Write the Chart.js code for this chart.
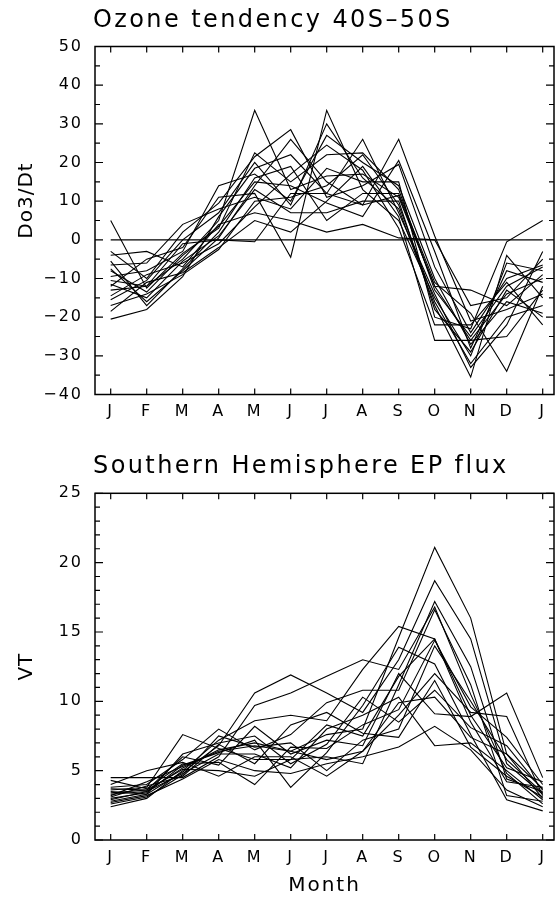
<!DOCTYPE html>
<html>
<head>
<meta charset="utf-8">
<script src="https://cdn.jsdelivr.net/npm/chart.js@4.4.0/dist/chart.umd.min.js"></script>
<style>
html, body { margin: 0; padding: 0; background: #fff; overflow: hidden; }
.panel { position: absolute; left: 0; width: 555px; }
#top { top: 0; height: 440px; }
#bottom { top: 440px; height: 458px; }
</style>
</head>
<body>
<div class="panel" id="top"><canvas id="ozoneChart" width="555" height="440"></canvas></div>
<div class="panel" id="bottom"><canvas id="fluxChart" width="555" height="458"></canvas></div>
<script>
// month ticks, J to J
var months = ['J', 'F', 'M', 'A', 'M', 'J', 'J', 'A', 'S', 'O', 'N', 'D', 'J'];

// ozone tendency 40S-50S, one row per year
var ozoneYears = [
  [-10.5, -12, -5, 5, 33.5, 13, 16.5, 17, 11, -12, -26, -14, -10],
  [5, -12.5, -3.5, 3, 22.5, 15, 22, 22.5, 13, -13, -25, -12, -7],
  [-3, -10, 2, 9.5, 21.5, 28.5, 11, 14, 19.5, -7, -24, -10, -6.5],
  [-7.5, -16, -8, 0.5, 14, 26, 15, 9, 26, 1, -21, -18, -14],
  [-12, -5, -2, 11, 12, -4.5, 33.5, 13, 5, -15, -30, -6, -8],
  [-15.5, -10.5, 0, 7, 20, 9, 30, 16, 8, -17, -35.5, -4, -15],
  [-5.5, -17, -7.5, 2, 16, 19, 5, 12, 12, -11, -19, -34, -12],
  [-20.5, -18, -9.5, 6, 18.5, 22, 12, 26, 7, -14, -33, -22, -3],
  [-9.5, -8, -3, 14, 17, 10, 27, 20, 14, -10, -27, -16, -19],
  [-14.5, -9, -6, -1, 8.5, 17, 24.5, 18, 3, -22, -22, -11, -22],
  [-8, -13.5, -4, 3.5, 15, 14, 9.5, 6, 20.5, -3, -28, -8, -11],
  [-17, -14, -9, -2.5, 10, 11, 14, 22, 9, -16, -32, -20, -17],
  [-6.5, -6, 4, 8, 11, 8, 18.5, 15, 15, -20, -23, -0.5, 5],
  [-11.5, -15, -5.5, 1, 13, 7, 7, 10, 10, -18, -29, -13, -20],
  [-18.5, -11, -8.5, -2, 5, 2, 10, 19, 6, -26, -26, -25, -13],
  [-4, -3, -7, 4, 7, 5, 2, 4, 0.5, 0, -17, -15, -5],
  [-13, -12, -1, 0, -0.5, 12, 12, 9, 11.5, -12, -13, -17, -9]
];
var ozoneZero = [0, 0, 0, 0, 0, 0, 0, 0, 0, 0, 0, 0, 0];

// southern hemisphere EP flux (VT), one row per year
var fluxYears = [
  [3.3, 3.5, 5.2, 6.5, 7.0, 6.4, 7.6, 8.0, 14.6, 21.1, 16.0, 6.2, 3.0],
  [2.8, 3.3, 4.9, 6.8, 10.6, 11.9, 10.6, 9.2, 13.0, 18.7, 14.5, 5.5, 3.3],
  [4.5, 4.5, 4.5, 6.0, 9.7, 10.6, 11.8, 13.0, 12.3, 16.8, 10.5, 4.8, 2.6],
  [3.6, 3.8, 7.6, 6.6, 5.8, 5.8, 6.0, 5.5, 11.2, 17.2, 12.5, 4.4, 3.5],
  [2.4, 3.0, 5.0, 7.2, 8.6, 9.0, 8.6, 12.3, 15.4, 14.5, 8.5, 4.2, 3.8],
  [3.8, 4.0, 5.8, 8.0, 6.5, 7.6, 9.9, 10.8, 10.8, 16.6, 11.2, 3.2, 2.8],
  [4.3, 3.7, 5.5, 5.6, 4.0, 6.7, 6.6, 8.3, 9.4, 14.4, 9.6, 7.4, 4.0],
  [3.0, 3.4, 5.4, 6.3, 7.2, 3.8, 6.3, 9.7, 13.9, 12.7, 7.6, 2.9, 2.1],
  [2.6, 3.1, 4.7, 7.5, 6.7, 7.0, 5.0, 7.2, 8.0, 14.0, 10.0, 5.8, 3.4],
  [3.4, 3.6, 6.0, 5.4, 8.2, 6.2, 7.2, 6.8, 12.0, 9.1, 8.9, 10.6, 4.5],
  [3.1, 3.9, 4.6, 6.9, 5.5, 8.3, 9.2, 7.7, 7.4, 11.5, 6.7, 4.6, 3.1],
  [2.9, 3.5, 4.8, 6.2, 6.2, 5.2, 8.0, 9.0, 10.3, 6.8, 7.0, 5.0, 2.9],
  [4.0, 5.0, 5.6, 4.6, 6.0, 6.0, 4.6, 6.4, 9.0, 12.0, 9.2, 8.9, 3.2],
  [3.5, 3.3, 6.2, 7.0, 7.5, 5.5, 6.9, 10.3, 8.5, 10.8, 8.1, 6.8, 3.6],
  [2.7, 3.2, 4.4, 5.8, 5.0, 4.8, 5.5, 6.0, 6.7, 8.2, 6.5, 3.6, 2.4],
  [3.2, 4.2, 5.3, 6.4, 6.8, 6.4, 5.8, 6.4, 9.9, 10.3, 7.4, 6.2, 3.7],
  [3.7, 3.6, 5.1, 5.0, 4.6, 5.8, 8.3, 7.5, 11.8, 14.5, 9.0, 5.2, 4.2]
];

Chart.defaults.font.family = '"DejaVu Sans", sans-serif';
Chart.defaults.color = '#000';

// frame, inward tick marks, left-aligned panel title and y title
var framePlugin = {
  id: 'frame',
  beforeDraw: function(chart) {
    chart.ctx.letterSpacing = '2px';
  },
  afterDraw: function(chart, args, opts) {
    var ctx = chart.ctx;
    var a = chart.chartArea;
    var xs = chart.scales.x;
    var ys = chart.scales.y;
    ctx.save();
    ctx.strokeStyle = '#000';
    ctx.lineWidth = 1.5;
    ctx.strokeRect(a.left, a.top, a.right - a.left, a.bottom - a.top);
    ctx.lineWidth = 1.2;
    ctx.beginPath();
    xs.ticks.forEach(function(t) {
      var px = xs.getPixelForValue(t.value);
      ctx.moveTo(px, a.bottom);
      ctx.lineTo(px, a.bottom - 6);
      ctx.moveTo(px, a.top);
      ctx.lineTo(px, a.top + 6);
    });
    ys.ticks.forEach(function(t) {
      var py = ys.getPixelForValue(t.value);
      var len = t.label ? 8 : 5;
      ctx.moveTo(a.left, py);
      ctx.lineTo(a.left + len, py);
      ctx.moveTo(a.right, py);
      ctx.lineTo(a.right - len, py);
    });
    ctx.stroke();
    ctx.fillStyle = '#000';
    ctx.font = '24px "DejaVu Sans"';
    ctx.letterSpacing = '2.4px';
    ctx.textAlign = 'left';
    ctx.textBaseline = 'alphabetic';
    ctx.fillText(opts.text, a.left - 2, a.top - 20);
    // y title, rotated
    ctx.font = '20px "DejaVu Sans"';
    ctx.letterSpacing = '1px';
    ctx.translate(27, (a.top + a.bottom) / 2 - opts.yShift);
    ctx.rotate(-Math.PI / 2);
    ctx.textAlign = 'center';
    ctx.textBaseline = 'middle';
    ctx.fillText(opts.yText, 0, 0);
    ctx.restore();
  }
};

function yearLines(rows) {
  return rows.map(function(row) {
    return {
      data: row.map(function(v, i) { return {x: i, y: v}; }),
      borderColor: '#000',
      borderWidth: 1.1,
      pointRadius: 0,
      tension: 0,
      fill: false
    };
  });
}

function makeOptions(title, yTitle, yShift, yMin, yMax, yStep, yMajor, xTitle, topPad, xHeight) {
  return {
    responsive: false,
    animation: false,
    devicePixelRatio: 1,
    layout: { padding: { top: topPad, right: 1, left: 0, bottom: 0 } },
    plugins: {
      legend: { display: false },
      tooltip: { enabled: false },
      frame: { text: title, yText: yTitle, yShift: yShift }
    },
    scales: {
      x: {
        type: 'linear',
        min: -0.436,
        max: 12.314,
        grid: { display: false, drawTicks: false },
        border: { display: false },
        afterBuildTicks: function(scale) {
          scale.ticks = months.map(function(m, i) { return {value: i}; });
        },
        afterFit: function(scale) { scale.height = xHeight; },
        ticks: {
          autoSkip: false,
          maxRotation: 0,
          padding: 8,
          font: { size: 16 },
          callback: function(v, i) { return months[i]; }
        },
        title: {
          display: !!xTitle,
          text: xTitle,
          font: { size: 20 },
          padding: 0
        }
      },
      y: {
        min: yMin,
        max: yMax,
        grid: { display: false, drawTicks: false },
        border: { display: false },
        afterFit: function(scale) { scale.width = 95; },
        ticks: {
          stepSize: yStep,
          autoSkip: false,
          padding: 12,
          font: { size: 16 },
          callback: function(v) {
            if (v % yMajor !== 0) return '';
            return v < 0 ? '\u2212' + Math.abs(v) : String(v);
          }
        }
      }
    }
  };
}

window.onload = function() {
  var ozoneSets = yearLines(ozoneYears);
  ozoneSets.push({
    data: ozoneZero.map(function(v, i) { return {x: i, y: v}; }),
    borderColor: '#000',
    borderWidth: 1.2,
    pointRadius: 0,
    fill: false
  });
  new Chart(document.getElementById('ozoneChart').getContext('2d'), {
    type: 'line',
    data: { datasets: ozoneSets },
    options: makeOptions('Ozone tendency 40S\u201350S', 'Do3/Dt', 20, -40, 50, 5, 10, '', 46.5, 45.5),
    plugins: [framePlugin]
  });

  new Chart(document.getElementById('fluxChart').getContext('2d'), {
    type: 'line',
    data: { datasets: yearLines(fluxYears) },
    options: makeOptions('Southern Hemisphere EP flux', 'VT', 0, 0, 25, 1, 5, 'Month', 53.3, 58),
    plugins: [framePlugin]
  });
};
</script>
</body>
</html>
